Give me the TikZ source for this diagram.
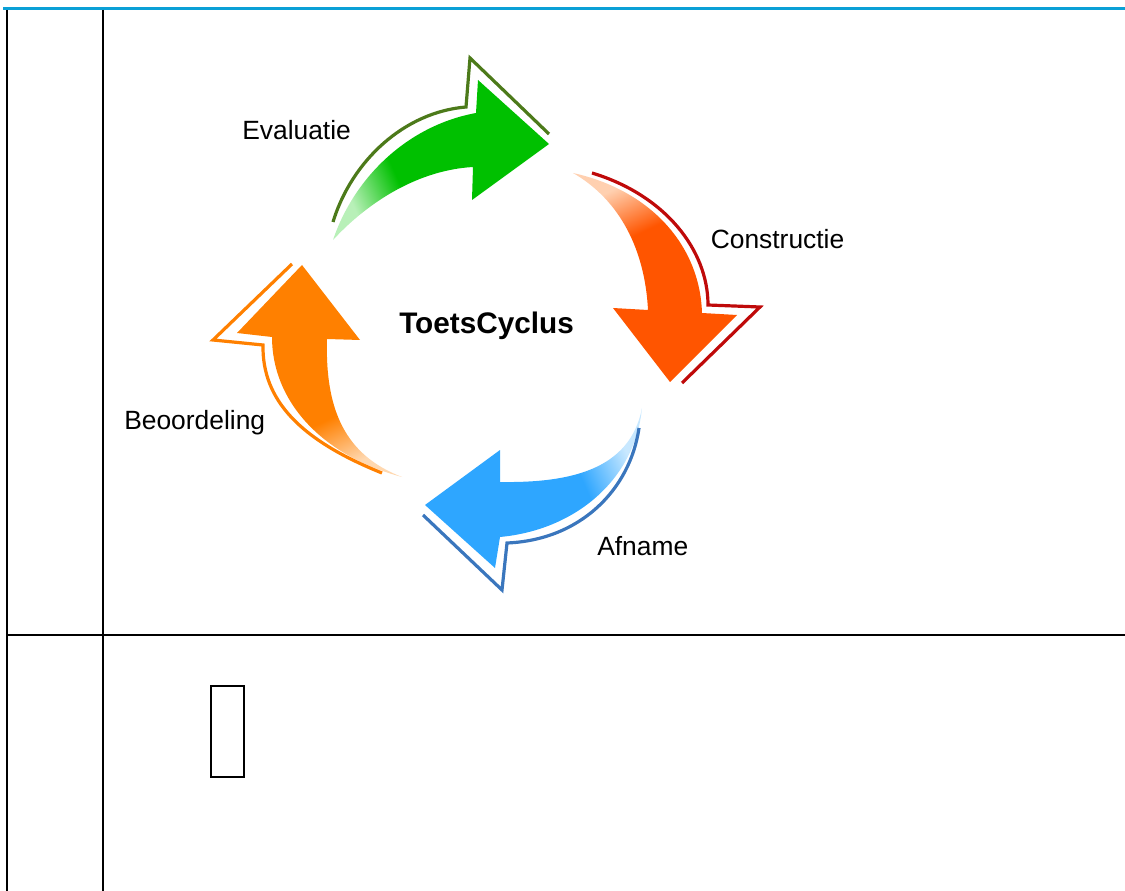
\documentclass[tikz,border=0pt]{standalone}
\usepackage{fontspec}
\setmainfont{Liberation Sans}
\definecolor{topline}{HTML}{0AA0D6}
\definecolor{gfill}{HTML}{00C000}
\definecolor{glight}{HTML}{B8F0B8}
\definecolor{gline}{HTML}{4C7A1A}
\definecolor{rfill}{HTML}{FF5500}
\definecolor{rlight}{HTML}{FFD0B0}
\definecolor{rline}{HTML}{BF0A0A}
\definecolor{bfill}{HTML}{2EA6FF}
\definecolor{blight}{HTML}{C8E8FF}
\definecolor{bline}{HTML}{3A76BD}
\definecolor{ofill}{HTML}{FF8000}
\definecolor{olight}{HTML}{FFD8B0}
\definecolor{oline}{HTML}{FF8000}
\pgfdeclarehorizontalshading{gfade}{100bp}{color(0bp)=(glight); color(25bp)=(glight); color(38bp)=(gfill); color(100bp)=(gfill)}
\pgfdeclarehorizontalshading{rfade}{100bp}{color(0bp)=(rlight); color(25bp)=(rlight); color(38bp)=(rfill); color(100bp)=(rfill)}
\pgfdeclarehorizontalshading{bfade}{100bp}{color(0bp)=(blight); color(25bp)=(blight); color(38bp)=(bfill); color(100bp)=(bfill)}
\pgfdeclarehorizontalshading{ofade}{100bp}{color(0bp)=(olight); color(25bp)=(olight); color(38bp)=(ofill); color(100bp)=(ofill)}
\tikzset{
  rule/.style={line width=1.5pt, black},
  label/.style={inner sep=0pt, anchor=base west, font=\fontsize{19.8}{22}\selectfont},
  title/.style={inner sep=0pt, anchor=base west, font=\fontsize{22.3}{26}\selectfont\bfseries},
  outl/.style={line width=2.4pt, line join=miter}
}
\begin{document}
\begin{tikzpicture}[x=0.75pt, y=-0.75pt]
\useasboundingbox (0,0) rectangle (1125,891);
% table lines
\draw[line width=2.6pt, topline] (3,8.5) -- (1125,8.5);
\draw[rule] (7,10) -- (7,891);
\draw[rule] (103,10) -- (103,891);
\draw[rule] (7,635) -- (1125,635);
\draw[rule] (211,685.5) rectangle (244,776.5);
% green arrow
\shade[shading=gfade, shading angle=24]
  (333,240) .. controls (355,175) and (410,125) .. (476,113)
  -- (478,80) -- (549,144) -- (472,200) -- (473,167)
  .. controls (420,170) and (370,200) .. (333,240) -- cycle;
\draw[outl, gline] (333,222) .. controls (352,160) and (405,112) .. (466,107) -- (470,58) -- (549,134);
% red arrow
\shade[shading=rfade, shading angle=-65]
  (573,173) .. controls (650,190) and (700,245) .. (702,313)
  -- (737,315) -- (670,382) -- (613,308) -- (648,310)
  .. controls (645,250) and (620,200) .. (573,173) -- cycle;
\draw[outl, rline] (592,173) .. controls (665,195) and (708,250) .. (708,305) -- (760,307) -- (682,383);
% blue arrow
\shade[shading=bfade, shading angle=204]
  (642,408) .. controls (630,470) and (570,483) .. (500,482)
  -- (500,450) -- (425,505) -- (495,568) -- (500,537)
  .. controls (575,530) and (635,480) .. (642,408) -- cycle;
\draw[outl, bline] (639,428) .. controls (630,490) and (580,540) .. (507,543) -- (502,590) -- (423,515);
% orange arrow
\shade[shading=ofade, shading angle=115]
  (402,477) .. controls (320,455) and (272,400) .. (272,337)
  -- (237,333) -- (302,265) -- (360,340) -- (327,339)
  .. controls (325,410) and (345,455) .. (402,477) -- cycle;
\draw[outl, oline] (382,473) .. controls (300,440) and (262,400) .. (263,345) -- (213,340) -- (292,264);
% labels
\node[label] (eval) at (242,139.3) {Evaluatie};
\node[label] (cons) at (710.5,248.3) {Constructie};
\node[title] (toets) at (399,333.3) {ToetsCyclus};
\node[label] (beoo) at (124,429.3) {Beoordeling};
\node[label] (afn) at (597,555) {Afname};
\end{tikzpicture}
\end{document}
